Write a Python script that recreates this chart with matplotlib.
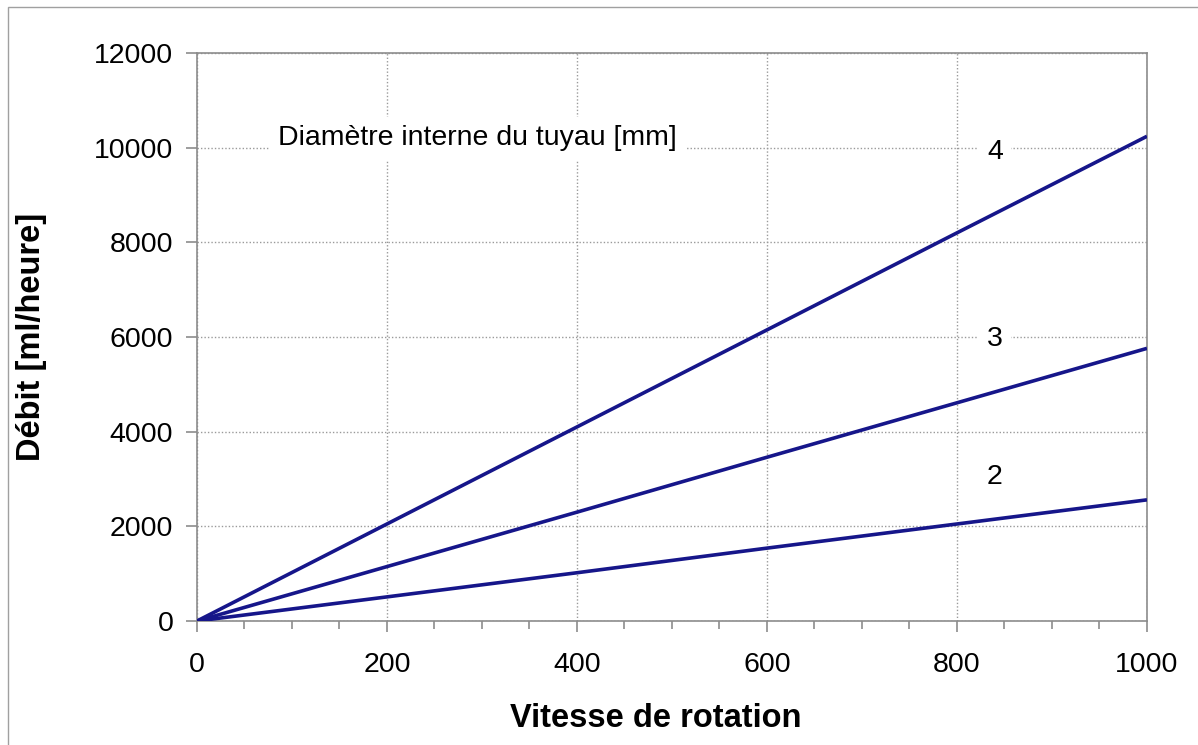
import numpy as np
import matplotlib.pyplot as plt
from matplotlib.ticker import MultipleLocator
from matplotlib.patches import Rectangle

# Données
vitesse = [0, 200, 400, 600, 800, 1000]
debit_4 = [0, 2050, 4100, 6150, 8200, 10240]
debit_3 = [0, 1150, 2300, 3460, 4610, 5760]
debit_2 = [0, 510, 1020, 1540, 2050, 2560]
diametres = ["4", "3", "2"]
label_pos = [(840, 9900), (840, 5950), (840, 3040)]

plt.rcParams["font.family"] = ["Liberation Sans", "DejaVu Sans"]

fig = plt.figure(figsize=(11.98, 7.45), dpi=100)
ax = fig.add_axes([0.1644, 0.1664, 0.9574 - 0.1644, 0.9289 - 0.1664])

# cadre extérieur
fig.patches.append(Rectangle((8 / 1198, -0.05), 1.2, 1 - 7 / 745 + 0.05,
                             transform=fig.transFigure, fill=False,
                             edgecolor="#a0a0a0", lw=1.0))

COULEUR = "#16168a"
for y in (debit_4, debit_3, debit_2):
    ax.plot(vitesse, y, color=COULEUR, lw=2.6, solid_capstyle="butt", zorder=3)

ax.set_xlim(0, 1000)
ax.set_ylim(0, 12000)
ax.xaxis.set_major_locator(MultipleLocator(200))
ax.xaxis.set_minor_locator(MultipleLocator(50))
ax.yaxis.set_major_locator(MultipleLocator(2000))
ax.grid(True, which="major", linestyle=(0, (1, 1.5)), color="#9a9a9a", lw=1.0)

for s in ax.spines.values():
    s.set_color("#8c8c8c")
    s.set_linewidth(1.2)

ax.tick_params(axis="both", which="major", direction="out", length=8,
               color="#8c8c8c", width=1.2, labelsize=20.5)
ax.tick_params(axis="x", which="major", pad=14)
ax.tick_params(axis="y", which="major", pad=9)
ax.tick_params(axis="x", which="minor", direction="out", length=6,
               color="#8c8c8c", width=1.2)

ax.set_xlabel("Vitesse de rotation", fontsize=23.5, fontweight="bold", labelpad=18)
ax.xaxis.label.set_x(0.483)
ax.set_ylabel("Débit [ml/heure]", fontsize=23.5, fontweight="bold", labelpad=34)

ax.text(85, 10200, "Diamètre interne du tuyau [mm]", fontsize=20.5,
        va="center", ha="left", zorder=4,
        bbox=dict(boxstyle="square,pad=0.3", fc="white", ec="none"))
for lab, (x, y) in zip(diametres, label_pos):
    ax.text(x, y, lab, fontsize=20.5, ha="center", va="center", zorder=4,
            bbox=dict(boxstyle="square,pad=0.3", fc="white", ec="none"))

fig.savefig("out.png", dpi=100)
